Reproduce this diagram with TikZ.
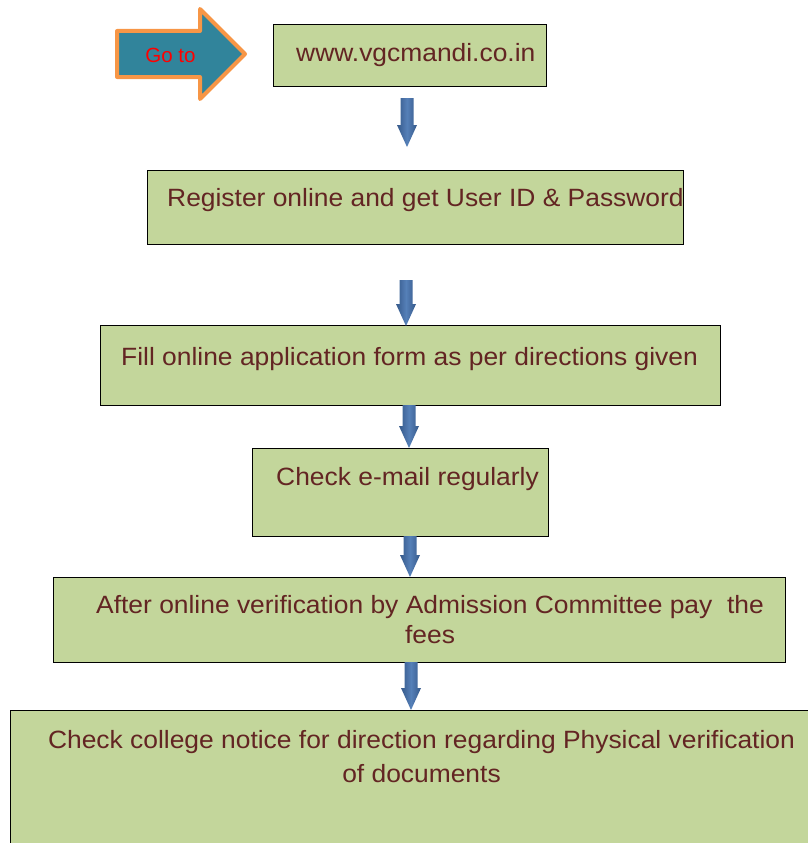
\documentclass[tikz,border=0pt]{standalone}
\usepackage{fontspec}
\setmainfont{Liberation Sans}
\newfontfamily\stepfont{Liberation Sans}[FakeStretch=1.056]
\usetikzlibrary{calc}
\definecolor{boxfill}{HTML}{C3D69B}
\definecolor{txt}{HTML}{632523}
\definecolor{arrdark}{HTML}{36598A}
\definecolor{arrlight}{HTML}{5580B8}
\definecolor{gofill}{HTML}{31849B}
\definecolor{goline}{HTML}{F79646}
\tikzset{
  stepbox/.style={draw=black, line width=1pt, fill=boxfill, rectangle, inner sep=0pt},
  steptext/.style={text=txt, font=\stepfont\fontsize{25}{30}\selectfont, inner sep=0pt},
  arrfill/.style={left color=arrdark, right color=arrdark, middle color=arrlight, draw=none}
}
\newcommand\blockarr[2]{%
  \path[arrfill] let \p1=(#1), \p2=(#2) in
    (\x1-6.5pt,\y1) -- (\x1+6.5pt,\y1) -- (\x1+6.5pt,\y2+22pt) -- (\x1+10pt,\y2+22pt)
    -- (\x2,\y2) -- (\x1-10pt,\y2+22pt) -- (\x1-6.5pt,\y2+22pt) -- cycle;}
\begin{document}
\begin{tikzpicture}[x=1pt,y=-1pt]
\useasboundingbox (0,0) rectangle (808,843);
% Go to arrow
\filldraw[fill=gofill, draw=goline, line width=4pt, line join=round]
  (117,31) -- (200,31) -- (200,9) -- (245,54) -- (200,99) -- (200,77) -- (117,77) -- cycle;
\node[text=red, font=\fontsize{20.5}{24}\selectfont, inner sep=0pt, anchor=base] (goto) at (170.5,62.7) {Go to};
% boxes
\node[stepbox, minimum width=273pt, minimum height=61pt] (b1) at (409.5,55.5) {};
\node[stepbox, minimum width=536pt, minimum height=74pt] (b2) at (415,207) {};
\node[stepbox, minimum width=620pt, minimum height=80pt] (b3) at (410,365) {};
\node[stepbox, minimum width=296pt, minimum height=88pt] (b4) at (400,492) {};
\node[stepbox, minimum width=732pt, minimum height=85pt] (b5) at (419,619.5) {};
\node[stepbox, minimum width=810pt, minimum height=150pt] (b6) at (415,785) {};
% texts
\node[steptext, anchor=base west] (t1) at (296,61.5) {www.vgcmandi.co.in};
\node[steptext, anchor=base west] (t2) at (167,206.7) {Register online and get User ID \& Password};
\node[steptext, anchor=base west] (t3) at (121,365.3) {Fill online application form as per directions given};
\node[steptext, anchor=base west] (t4) at (276,485) {Check e-mail regularly};
\node[steptext, anchor=base] (t5a) at (430,613.3) {After online verification by Admission Committee pay\ \ the};
\node[steptext, anchor=base] (t5b) at (430,643.3) {fees};
\node[steptext, anchor=base] (t6a) at (421.5,748) {Check college notice for direction regarding Physical verification};
\node[steptext, anchor=base] (t6b) at (421.5,782) {of documents};
% down arrows
\coordinate (a1s) at (407,98);  \coordinate (a1e) at (407,147);
\coordinate (a2s) at (406,280); \coordinate (a2e) at (406,326);
\coordinate (a3s) at (409,405); \coordinate (a3e) at (409,448);
\coordinate (a4s) at (410,536); \coordinate (a4e) at (410,577);
\coordinate (a5s) at (411,662); \coordinate (a5e) at (411,710);
\blockarr{a1s}{a1e}
\blockarr{a2s}{a2e}
\blockarr{a3s}{a3e}
\blockarr{a4s}{a4e}
\blockarr{a5s}{a5e}
\end{tikzpicture}
\end{document}
